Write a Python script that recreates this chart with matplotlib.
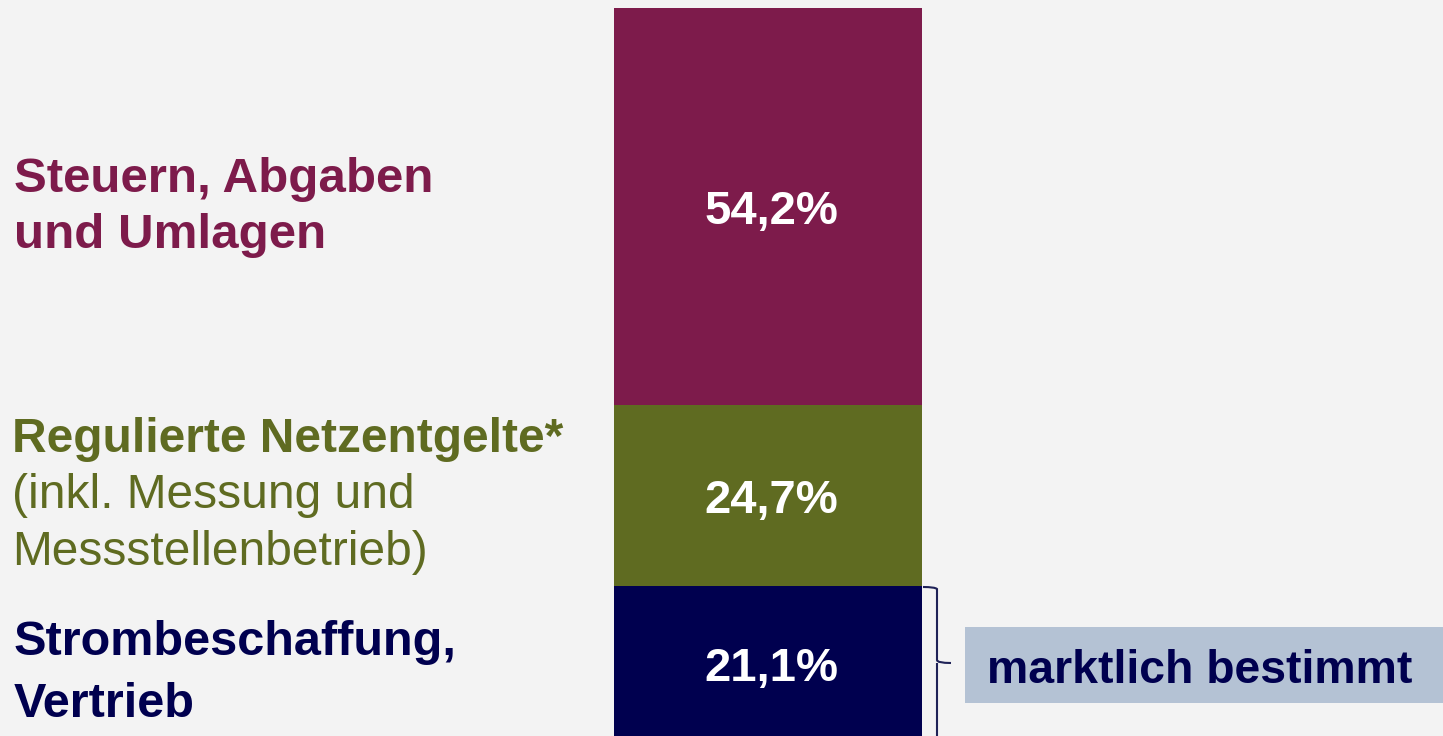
import matplotlib
matplotlib.use("Agg")
import matplotlib.pyplot as plt
from matplotlib.patches import Rectangle, PathPatch
from matplotlib.path import Path

# ---- data ----
segments = ["Strombeschaffung, Vertrieb", "Regulierte Netzentgelte", "Steuern, Abgaben und Umlagen"]
shares = [21.1, 24.7, 54.2]
value_labels = ["21,1%", "24,7%", "54,2%"]
colors = ["#00004F", "#5F6B21", "#7D1B4B"]

W, H = 1443, 736
BG = "#F3F3F3"
plt.rcParams['font.family'] = ['Liberation Sans', 'DejaVu Sans']

fig = plt.figure(figsize=(W / 100, H / 100), dpi=100, facecolor=BG)
ax = fig.add_axes([0, 0, 1, 1])
ax.set_facecolor(BG)
s = 7.33  # px per percentage point
v1 = 100 + 8 / s
v0 = v1 - H / s
ax.set_xlim(0, W)
ax.set_ylim(v0, v1)
ax.axis("off")

bottom = 0
for val, lab, col in zip(shares, value_labels, colors):
    ax.bar(768, val, bottom=bottom, width=308, color=col, edgecolor="none")
    mid = bottom + val / 2
    ax.text(771, mid - 17 / s, lab, color="white", fontsize=34, fontweight="bold",
            ha="center", va="baseline")
    bottom += val


def ftxt(px, py, text, **kw):
    fig.text(px / W, 1 - py / H, text, va="baseline", ha="left", **kw)


# left labels
ftxt(14, 192, "Steuern, Abgaben", color=colors[2], fontsize=35.5, fontweight="bold")
ftxt(14, 248, "und Umlagen", color=colors[2], fontsize=35.5, fontweight="bold")
ftxt(12, 452, "Regulierte Netzentgelte*", color=colors[1], fontsize=34.5, fontweight="bold")
ftxt(12, 508, "(inkl. Messung und", color=colors[1], fontsize=34.5)
ftxt(12, 565, "Messstellenbetrieb)", color=colors[1], fontsize=34.5)
ftxt(14, 655, "Strombeschaffung,", color=colors[0], fontsize=35, fontweight="bold")
ftxt(14, 717, "Vertrieb", color=colors[0], fontsize=35, fontweight="bold")


# bracket (figure pixel coords)
def P(px, py):
    return (px / W, 1 - py / H)


verts = [P(923, 587), P(935, 587), P(937, 589), P(937, 660), P(937, 663), P(951, 663),
         P(937, 663), P(937, 666), P(937, 745)]
codes = [Path.MOVETO, Path.CURVE3, Path.CURVE3, Path.LINETO, Path.CURVE3, Path.CURVE3,
         Path.MOVETO, Path.CURVE3, Path.LINETO]
fig.patches.append(PathPatch(Path(verts, codes), transform=fig.transFigure, fill=False,
                             edgecolor="#1F2257", lw=1.5))

# box
fig.patches.append(Rectangle(P(965, 703), (W - 965) / W, 76 / H, transform=fig.transFigure,
                             facecolor="#B4C2D4", edgecolor="none"))
ftxt(987, 683, "marktlich bestimmt", color=colors[0], fontsize=33.4, fontweight="bold")

fig.savefig("out.png", dpi=100, facecolor=BG)
